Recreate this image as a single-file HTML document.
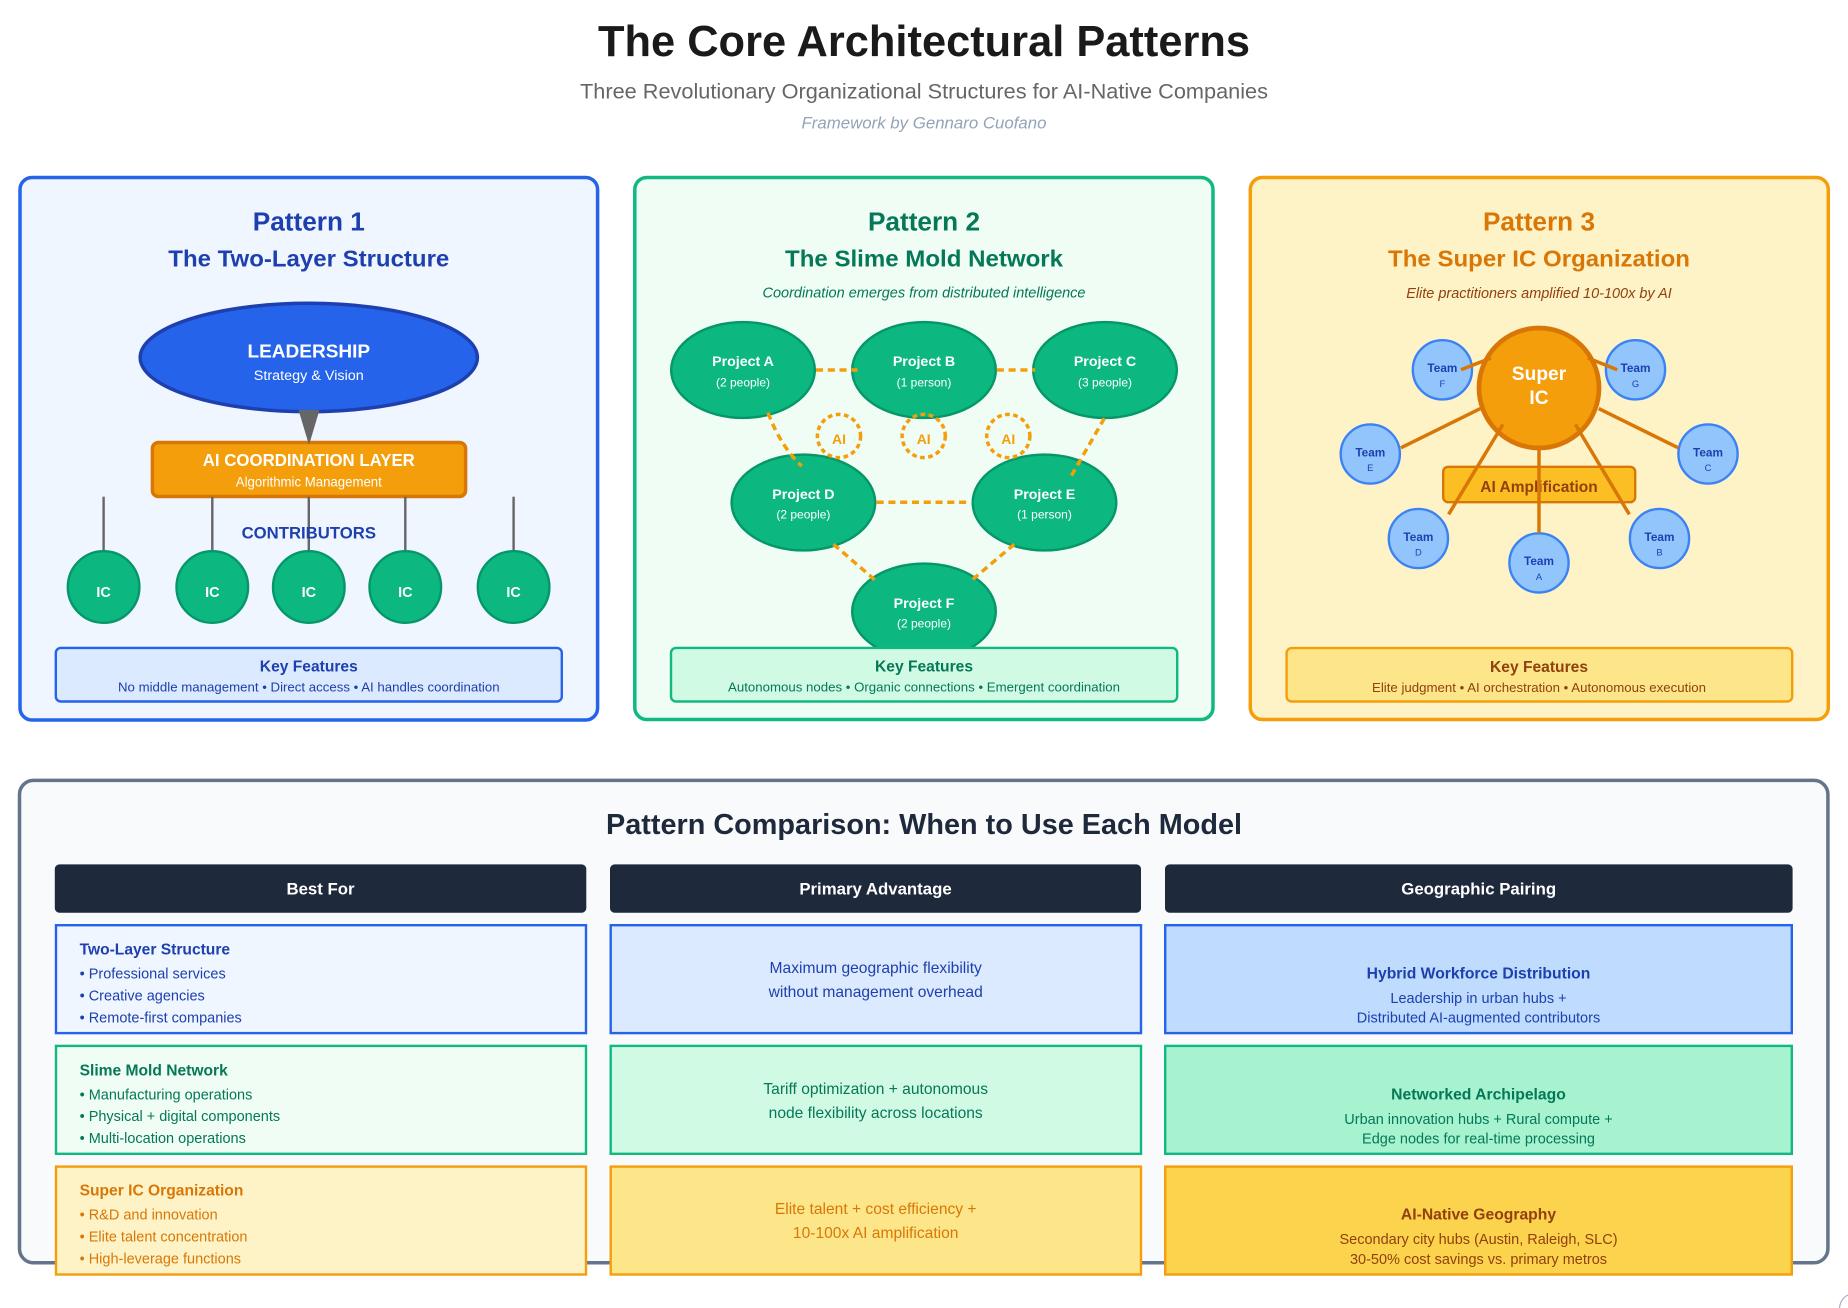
<!DOCTYPE html>
<html lang="en">
<head>
<meta charset="utf-8">
<title>The Core Architectural Patterns</title>
<style>
html,body{margin:0;padding:0;background:#fff;width:1848px;height:1308px;overflow:hidden}
svg{display:block;position:absolute;left:0;top:0}
text{font-family:"Liberation Sans",Arial,sans-serif}
.m{text-anchor:middle}
.b{font-weight:700}
.i{font-style:italic}
.w{fill:#fff}
.blue{fill:#1e40af}.green{fill:#047857}.amber{fill:#d97706}.brown{fill:#92400e}
.pt{font-size:26.2px;font-weight:700;text-anchor:middle}
.st{font-size:23.5px;font-weight:700;text-anchor:middle}
.kf{font-size:15.5px;font-weight:700;text-anchor:middle}
.kd{font-size:13.3px;text-anchor:middle}
.ic{fill:#0db880;stroke:#059669;stroke-width:2.4}
.pn{fill:#0db880;stroke:#059669;stroke-width:2.4}
.dl{fill:none;stroke:#f59e0b;stroke-width:3.5;stroke-dasharray:7.07 4.71}
.ai{fill:none;stroke:#f59e0b;stroke-width:3.5;stroke-dasharray:4.7 3.5}
.tc{fill:#93c5fd;stroke:#3b82f6;stroke-width:2.4}
.tl{stroke:#d97706;stroke-width:3.5}
.gl{stroke:#666;stroke-width:2.4}
.ch{font-size:15.6px;font-weight:700}
.cb{font-size:14.5px}
.cm{font-size:15.6px;text-anchor:middle}
.hd{font-size:16.8px;font-weight:700;fill:#fff;text-anchor:middle}
</style>
</head>
<body>
<svg width="1848" height="1308" viewBox="0 0 1848 1308" xmlns="http://www.w3.org/2000/svg">
<!-- Header -->
<text x="924" y="56" class="m b" font-size="43.4" fill="#1a1a1a" textLength="652" lengthAdjust="spacingAndGlyphs">The Core Architectural Patterns</text>
<text x="924" y="98.7" class="m" font-size="21.2" fill="#666" textLength="688" lengthAdjust="spacingAndGlyphs">Three Revolutionary Organizational Structures for AI-Native Companies</text>
<text x="924" y="128.3" class="m i" font-size="16.5" fill="#94a3b8" textLength="245" lengthAdjust="spacingAndGlyphs">Framework by Gennaro Cuofano</text>

<!-- Card 1 -->
<rect x="20" y="177.5" width="577.6" height="542.5" rx="12" fill="#eff6ff" stroke="#2563eb" stroke-width="3.5"/>
<text x="308.8" y="230.7" class="pt blue">Pattern 1</text>
<text x="308.8" y="266.7" class="st blue" textLength="281" lengthAdjust="spacingAndGlyphs">The Two-Layer Structure</text>
<ellipse cx="308.8" cy="357.5" rx="168.6" ry="54.2" fill="#2563eb" stroke="#1e40af" stroke-width="3.5"/>
<text x="308.8" y="357.3" class="m b w" font-size="18.9" textLength="122.6" lengthAdjust="spacingAndGlyphs">LEADERSHIP</text>
<text x="308.8" y="380" class="m w" font-size="14.1" textLength="110" lengthAdjust="spacingAndGlyphs">Strategy &amp; Vision</text>
<rect x="152.4" y="442.5" width="313.2" height="54" rx="6" fill="#f59e0b" stroke="#d97706" stroke-width="3.5"/>
<polygon points="298.5,410 319.5,410 309,445" fill="#666"/>
<text x="308.8" y="466" class="m b w" font-size="17.2" textLength="212" lengthAdjust="spacingAndGlyphs">AI COORDINATION LAYER</text>
<text x="308.8" y="486.7" class="m w" font-size="14" textLength="146" lengthAdjust="spacingAndGlyphs">Algorithmic Management</text>
<line class="gl" x1="103.6" y1="496.7" x2="103.6" y2="551"/>
<line class="gl" x1="212.3" y1="496.7" x2="212.3" y2="551"/>
<line class="gl" x1="308.8" y1="496.7" x2="308.8" y2="551"/>
<line class="gl" x1="405.3" y1="496.7" x2="405.3" y2="551"/>
<line class="gl" x1="513.6" y1="496.7" x2="513.6" y2="551"/>
<text x="308.8" y="538.7" class="m b blue" font-size="16.5" textLength="134.4" lengthAdjust="spacingAndGlyphs">CONTRIBUTORS</text>
<circle class="ic" cx="103.6" cy="587" r="35.8"/><text x="103.6" y="597" class="m b w" font-size="14.4">IC</text>
<circle class="ic" cx="212.3" cy="587" r="35.8"/><text x="212.3" y="597" class="m b w" font-size="14.4">IC</text>
<circle class="ic" cx="308.8" cy="587" r="35.8"/><text x="308.8" y="597" class="m b w" font-size="14.4">IC</text>
<circle class="ic" cx="405.3" cy="587" r="35.8"/><text x="405.3" y="597" class="m b w" font-size="14.4">IC</text>
<circle class="ic" cx="513.6" cy="587" r="35.8"/><text x="513.6" y="597" class="m b w" font-size="14.4">IC</text>
<rect x="55.8" y="647.9" width="506" height="53.6" rx="5" fill="#dbeafe" stroke="#2563eb" stroke-width="2.4"/>
<text x="308.8" y="671.7" class="kf blue" textLength="98" lengthAdjust="spacingAndGlyphs">Key Features</text>
<text x="308.8" y="691.7" class="kd blue" textLength="381.6" lengthAdjust="spacingAndGlyphs">No middle management • Direct access • AI handles coordination</text>

<!-- Card 2 -->
<rect x="634.8" y="177.5" width="578.2" height="542" rx="12" fill="#f0fdf4" stroke="#10b981" stroke-width="3.5"/>
<text x="924" y="230.7" class="pt green">Pattern 2</text>
<text x="924" y="266.7" class="st green" textLength="278" lengthAdjust="spacingAndGlyphs">The Slime Mold Network</text>
<text x="924" y="297.7" class="m i green" font-size="14.6" textLength="323" lengthAdjust="spacingAndGlyphs">Coordination emerges from distributed intelligence</text>
<ellipse class="pn" cx="743" cy="370" rx="71.8" ry="47.9"/>
<ellipse class="pn" cx="924" cy="370" rx="71.8" ry="47.9"/>
<ellipse class="pn" cx="1105" cy="370" rx="71.8" ry="47.9"/>
<ellipse class="pn" cx="803.4" cy="502.5" rx="71.8" ry="47.9"/>
<ellipse class="pn" cx="1044.5" cy="502.5" rx="71.8" ry="47.9"/>
<ellipse class="pn" cx="924" cy="611.5" rx="71.8" ry="47.9"/>
<path class="dl" d="M816 370H857.5"/>
<path class="dl" d="M996.8 370H1035"/>
<path class="dl" d="M876.6 502.3H968"/>
<path class="dl" d="M768 412.7Q781 447 801.7 466"/>
<path class="dl" d="M1104.4 418.3L1070.8 476.7"/>
<path class="dl" d="M833.5 544.3L875 580"/>
<path class="dl" d="M1014.2 544.3L972 580"/>
<circle class="ai" cx="839" cy="436" r="21.6"/>
<circle class="ai" cx="923.7" cy="436" r="21.6"/>
<circle class="ai" cx="1008.3" cy="436" r="21.6"/>
<text x="839" y="444" class="m b" font-size="14" fill="#f59e0b">AI</text>
<text x="923.7" y="444" class="m b" font-size="14" fill="#f59e0b">AI</text>
<text x="1008.3" y="444" class="m b" font-size="14" fill="#f59e0b">AI</text>
<g class="w" font-size="14.2" font-weight="700" text-anchor="middle">
<text x="743" y="366">Project A</text><text x="924" y="366">Project B</text><text x="1105" y="366">Project C</text>
<text x="803.4" y="499">Project D</text><text x="1044.5" y="499">Project E</text><text x="924" y="608">Project F</text>
</g>
<g class="w" font-size="12" text-anchor="middle">
<text x="743" y="386.7">(2 people)</text><text x="924" y="386.7">(1 person)</text><text x="1105" y="386.7">(3 people)</text>
<text x="803.4" y="518.3">(2 people)</text><text x="1044.5" y="518.3">(1 person)</text><text x="924" y="627.3">(2 people)</text>
</g>
<rect x="671" y="647.9" width="506.2" height="53.6" rx="5" fill="#d1fae5" stroke="#10b981" stroke-width="2.4"/>
<text x="924" y="671.7" class="kf green" textLength="98" lengthAdjust="spacingAndGlyphs">Key Features</text>
<text x="924" y="691.7" class="kd green" textLength="392" lengthAdjust="spacingAndGlyphs">Autonomous nodes • Organic connections • Emergent coordination</text>

<!-- Card 3 -->
<rect x="1250.3" y="177.5" width="578" height="542" rx="12" fill="#fef3c7" stroke="#f59e0b" stroke-width="3.5"/>
<text x="1539" y="230.7" class="pt amber">Pattern 3</text>
<text x="1539" y="266.7" class="st amber" textLength="302" lengthAdjust="spacingAndGlyphs">The Super IC Organization</text>
<text x="1539" y="298" class="m i brown" font-size="14.6" textLength="265.6" lengthAdjust="spacingAndGlyphs">Elite practitioners amplified 10-100x by AI</text>
<rect x="1443.2" y="466.8" width="192" height="35.4" rx="5" fill="#fbbf24" stroke="#d97706" stroke-width="2.4"/>
<text x="1539" y="492.2" class="m b brown" font-size="16" textLength="117.5" lengthAdjust="spacingAndGlyphs">AI Amplification</text>
<circle cx="1539" cy="388" r="60" fill="#f59e0b" stroke="#d97706" stroke-width="4.7"/>
<text x="1539" y="380" class="m b w" font-size="19.2">Super</text>
<text x="1539" y="404" class="m b w" font-size="19.2">IC</text>
<circle class="tc" cx="1442.4" cy="369.8" r="29.6"/>
<circle class="tc" cx="1635.5" cy="369.8" r="29.6"/>
<circle class="tc" cx="1370.3" cy="454" r="29.6"/>
<circle class="tc" cx="1708" cy="454" r="29.6"/>
<circle class="tc" cx="1418.4" cy="538.5" r="29.6"/>
<circle class="tc" cx="1659.5" cy="538.5" r="29.6"/>
<circle class="tc" cx="1539" cy="562.9" r="29.6"/>
<line class="tl" x1="1539" y1="450" x2="1539" y2="533"/>
<line class="tl" x1="1461" y1="369.8" x2="1491" y2="358"/>
<line class="tl" x1="1617.3" y1="369.8" x2="1587.8" y2="358"/>
<line class="tl" x1="1400.9" y1="447.8" x2="1480.4" y2="408.6"/>
<line class="tl" x1="1678.2" y1="447.8" x2="1598.7" y2="408.6"/>
<line class="tl" x1="1448.6" y1="514.4" x2="1502.9" y2="424.5"/>
<line class="tl" x1="1629.3" y1="514.4" x2="1575.4" y2="424.5"/>
<g class="blue b" font-size="11.8" text-anchor="middle">
<text x="1442.4" y="372.2">Team</text><text x="1635.5" y="372.2">Team</text>
<text x="1370.3" y="456.6">Team</text><text x="1708" y="456.6">Team</text>
<text x="1418.4" y="541">Team</text><text x="1659.5" y="541">Team</text>
<text x="1539" y="565.2">Team</text>
</g>
<g class="blue" font-size="9.4" text-anchor="middle">
<text x="1442.4" y="386.8">F</text><text x="1635.5" y="386.8">G</text>
<text x="1370.3" y="471">E</text><text x="1708" y="471">C</text>
<text x="1418.4" y="555.5">D</text><text x="1659.5" y="555.5">B</text>
<text x="1539" y="579.9">A</text>
</g>
<rect x="1286.6" y="648.1" width="505.6" height="53.4" rx="5" fill="#fde68a" stroke="#f59e0b" stroke-width="2.4"/>
<text x="1539" y="672" class="kf brown" textLength="98" lengthAdjust="spacingAndGlyphs">Key Features</text>
<text x="1539" y="692" class="kd brown" textLength="334" lengthAdjust="spacingAndGlyphs">Elite judgment • AI orchestration • Autonomous execution</text>

<!-- Comparison -->
<rect x="19.5" y="780.4" width="1808.4" height="482.4" rx="14" fill="#f8fafc" stroke="#64748b" stroke-width="3.5"/>
<text x="924" y="833.8" class="m b" font-size="29" fill="#1e293b" textLength="636" lengthAdjust="spacingAndGlyphs">Pattern Comparison: When to Use Each Model</text>

<rect x="54.8" y="864.4" width="531.5" height="48.4" rx="4.7" fill="#1e293b"/>
<rect x="610" y="864.4" width="531" height="48.4" rx="4.7" fill="#1e293b"/>
<rect x="1165" y="864.4" width="627.6" height="48.4" rx="4.7" fill="#1e293b"/>
<text x="320.5" y="894.6" class="hd">Best For</text>
<text x="875.5" y="894.6" class="hd">Primary Advantage</text>
<text x="1478.7" y="894.6" class="hd">Geographic Pairing</text>

<!-- Row 1 -->
<g stroke="#2563eb" stroke-width="2.4">
<rect x="56" y="925.2" width="530" height="107.9" fill="#eff6ff"/>
<rect x="610.7" y="925.2" width="530.3" height="107.9" fill="#dbeafe"/>
<rect x="1165.2" y="925.2" width="626.6" height="107.9" fill="#bfdbfe"/>
</g>
<text x="79.6" y="954.6" class="ch blue">Two-Layer Structure</text>
<text x="79.6" y="978.6" class="cb blue">• Professional services</text>
<text x="79.6" y="1000.6" class="cb blue">• Creative agencies</text>
<text x="79.6" y="1022.6" class="cb blue">• Remote-first companies</text>
<text x="875.7" y="973.2" class="cm blue">Maximum geographic flexibility</text>
<text x="875.7" y="997.2" class="cm blue">without management overhead</text>
<text x="1478.5" y="978.6" class="m b blue" font-size="15.7">Hybrid Workforce Distribution</text>
<text x="1478.5" y="1003" class="m cb blue">Leadership in urban hubs +</text>
<text x="1478.5" y="1022.6" class="m cb blue">Distributed AI-augmented contributors</text>

<!-- Row 2 -->
<g stroke="#10b981" stroke-width="2.4">
<rect x="56" y="1045.9" width="530" height="107.9" fill="#f0fdf4"/>
<rect x="610.7" y="1045.9" width="530.3" height="107.9" fill="#d1fae5"/>
<rect x="1165.2" y="1045.9" width="626.6" height="107.9" fill="#a7f3d0"/>
</g>
<text x="79.6" y="1075.3" class="ch green">Slime Mold Network</text>
<text x="79.6" y="1099.3" class="cb green">• Manufacturing operations</text>
<text x="79.6" y="1120.8" class="cb green">• Physical + digital components</text>
<text x="79.6" y="1142.8" class="cb green">• Multi-location operations</text>
<text x="875.7" y="1094.2" class="cm green">Tariff optimization + autonomous</text>
<text x="875.7" y="1118.2" class="cm green">node flexibility across locations</text>
<text x="1478.5" y="1099.7" class="m b green" font-size="15.7">Networked Archipelago</text>
<text x="1478.5" y="1124" class="m cb green">Urban innovation hubs + Rural compute +</text>
<text x="1478.5" y="1143.4" class="m cb green">Edge nodes for real-time processing</text>

<!-- Row 3 -->
<g stroke="#f59e0b" stroke-width="2.4">
<rect x="56" y="1166.6" width="530" height="107.9" fill="#fef3c7"/>
<rect x="610.7" y="1166.6" width="530.3" height="107.9" fill="#fde68a"/>
<rect x="1165.2" y="1166.6" width="626.6" height="107.9" fill="#fcd34d"/>
</g>
<text x="79.6" y="1195.6" class="ch amber">Super IC Organization</text>
<text x="79.6" y="1219.6" class="cb amber">• R&amp;D and innovation</text>
<text x="79.6" y="1241.6" class="cb amber">• Elite talent concentration</text>
<text x="79.6" y="1263.6" class="cb amber">• High-leverage functions</text>
<text x="875.7" y="1214" class="cm amber">Elite talent + cost efficiency +</text>
<text x="875.7" y="1238" class="cm amber">10-100x AI amplification</text>
<text x="1478.5" y="1219.6" class="m b brown" font-size="15.7">AI-Native Geography</text>
<text x="1478.5" y="1244" class="m cb brown">Secondary city hubs (Austin, Raleigh, SLC)</text>
<text x="1478.5" y="1264" class="m cb brown">30-50% cost savings vs. primary metros</text>

<path d="M1839.5 1308Q1840.5 1298.5 1848 1295" fill="none" stroke="#a6adc4" stroke-width="1.2"/>
</svg>
</body>
</html>
